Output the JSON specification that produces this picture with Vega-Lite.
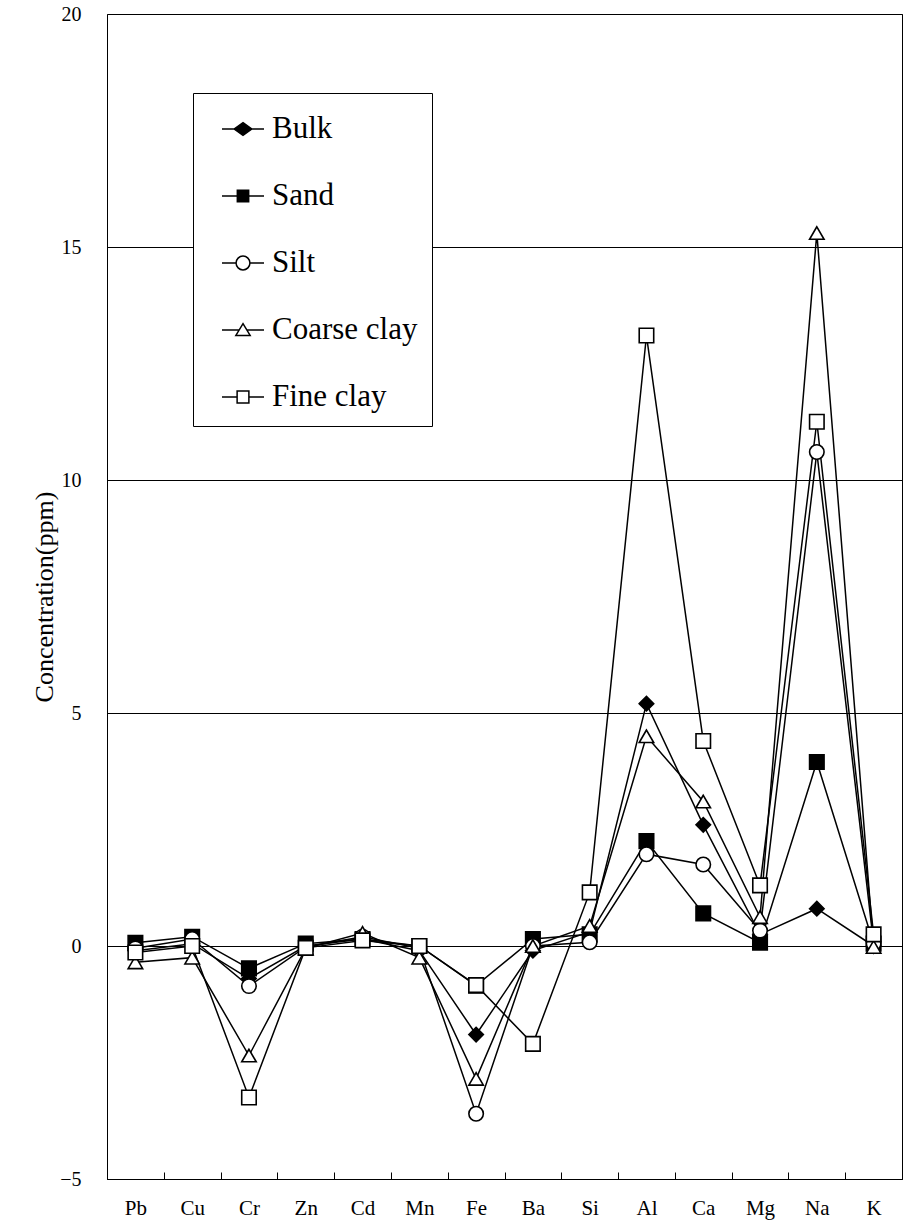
{
  "$schema": "https://vega.github.io/schema/vega-lite/v6.json",
  "autosize": {"type": "none"},
  "padding": {"left": 107, "top": 14, "right": 5, "bottom": 49},
  "width": 795,
  "height": 1165,
  "background": "white",
  "config": {
    "view": {"stroke": "black", "strokeWidth": 1},
    "font": "Liberation Serif",
    "legend": {
      "orient": "none",
      "legendX": 86,
      "legendY": 79,
      "fillColor": "white",
      "strokeColor": "black",
      "padding": 14,
      "symbolOffset": 14,
      "symbolSize": 1764,
      "symbolStrokeWidth": 1.5,
      "symbolStrokeColor": "black",
      "symbolOpacity": 1,
      "rowPadding": 30,
      "labelOffset": 7,
      "labelFont": "Liberation Serif",
      "labelFontSize": 31,
      "labelColor": "black",
      "labelLimit": 400
    }
  },
  "data": {
    "values": [
      {"element": "Pb", "series": "Bulk", "value": -0.1},
      {"element": "Cu", "series": "Bulk", "value": 0.05},
      {"element": "Cr", "series": "Bulk", "value": -0.7},
      {"element": "Zn", "series": "Bulk", "value": 0.0},
      {"element": "Cd", "series": "Bulk", "value": 0.15},
      {"element": "Mn", "series": "Bulk", "value": -0.1},
      {"element": "Fe", "series": "Bulk", "value": -1.9},
      {"element": "Ba", "series": "Bulk", "value": -0.1},
      {"element": "Si", "series": "Bulk", "value": 0.3},
      {"element": "Al", "series": "Bulk", "value": 5.2},
      {"element": "Ca", "series": "Bulk", "value": 2.6},
      {"element": "Mg", "series": "Bulk", "value": 0.25},
      {"element": "Na", "series": "Bulk", "value": 0.8},
      {"element": "K", "series": "Bulk", "value": 0.0},

      {"element": "Pb", "series": "Sand", "value": 0.07},
      {"element": "Cu", "series": "Sand", "value": 0.2},
      {"element": "Cr", "series": "Sand", "value": -0.48},
      {"element": "Zn", "series": "Sand", "value": 0.05},
      {"element": "Cd", "series": "Sand", "value": 0.15},
      {"element": "Mn", "series": "Sand", "value": 0.0},
      {"element": "Fe", "series": "Sand", "value": -0.85},
      {"element": "Ba", "series": "Sand", "value": 0.15},
      {"element": "Si", "series": "Sand", "value": 0.25},
      {"element": "Al", "series": "Sand", "value": 2.25},
      {"element": "Ca", "series": "Sand", "value": 0.7},
      {"element": "Mg", "series": "Sand", "value": 0.07},
      {"element": "Na", "series": "Sand", "value": 3.95},
      {"element": "K", "series": "Sand", "value": 0.05},

      {"element": "Pb", "series": "Silt", "value": -0.05},
      {"element": "Cu", "series": "Silt", "value": 0.15},
      {"element": "Cr", "series": "Silt", "value": -0.86},
      {"element": "Zn", "series": "Silt", "value": -0.02},
      {"element": "Cd", "series": "Silt", "value": 0.2},
      {"element": "Mn", "series": "Silt", "value": -0.05},
      {"element": "Fe", "series": "Silt", "value": -3.6},
      {"element": "Ba", "series": "Silt", "value": 0.0},
      {"element": "Si", "series": "Silt", "value": 0.08},
      {"element": "Al", "series": "Silt", "value": 1.97},
      {"element": "Ca", "series": "Silt", "value": 1.75},
      {"element": "Mg", "series": "Silt", "value": 0.33},
      {"element": "Na", "series": "Silt", "value": 10.6},
      {"element": "K", "series": "Silt", "value": 0.05},

      {"element": "Pb", "series": "Coarse clay", "value": -0.35},
      {"element": "Cu", "series": "Coarse clay", "value": -0.25},
      {"element": "Cr", "series": "Coarse clay", "value": -2.35},
      {"element": "Zn", "series": "Coarse clay", "value": -0.05},
      {"element": "Cd", "series": "Coarse clay", "value": 0.28},
      {"element": "Mn", "series": "Coarse clay", "value": -0.25},
      {"element": "Fe", "series": "Coarse clay", "value": -2.85},
      {"element": "Ba", "series": "Coarse clay", "value": 0.0},
      {"element": "Si", "series": "Coarse clay", "value": 0.43},
      {"element": "Al", "series": "Coarse clay", "value": 4.5},
      {"element": "Ca", "series": "Coarse clay", "value": 3.1},
      {"element": "Mg", "series": "Coarse clay", "value": 0.62},
      {"element": "Na", "series": "Coarse clay", "value": 15.3},
      {"element": "K", "series": "Coarse clay", "value": -0.02},

      {"element": "Pb", "series": "Fine clay", "value": -0.14},
      {"element": "Cu", "series": "Fine clay", "value": 0.0},
      {"element": "Cr", "series": "Fine clay", "value": -3.25},
      {"element": "Zn", "series": "Fine clay", "value": -0.04},
      {"element": "Cd", "series": "Fine clay", "value": 0.12},
      {"element": "Mn", "series": "Fine clay", "value": 0.0},
      {"element": "Fe", "series": "Fine clay", "value": -0.84},
      {"element": "Ba", "series": "Fine clay", "value": -2.1},
      {"element": "Si", "series": "Fine clay", "value": 1.15},
      {"element": "Al", "series": "Fine clay", "value": 13.1},
      {"element": "Ca", "series": "Fine clay", "value": 4.4},
      {"element": "Mg", "series": "Fine clay", "value": 1.3},
      {"element": "Na", "series": "Fine clay", "value": 11.25},
      {"element": "K", "series": "Fine clay", "value": 0.25}
    ]
  },
  "encoding": {
    "x": {
      "field": "element",
      "type": "nominal",
      "sort": ["Pb", "Cu", "Cr", "Zn", "Cd", "Mn", "Fe", "Ba", "Si", "Al", "Ca", "Mg", "Na", "K"],
      "scale": {"type": "band", "paddingInner": 0, "paddingOuter": 0},
      "axis": {
        "title": null,
        "labelAngle": 0,
        "labelFont": "Liberation Serif",
        "labelFontSize": 21,
        "labelColor": "black",
        "labelPadding": 25,
        "labelBaseline": "top",
        "tickBand": "extent",
        "tickSize": -7,
        "tickColor": "black",
        "tickWidth": 1,
        "domainColor": "black",
        "domainWidth": 1
      }
    },
    "y": {
      "field": "value",
      "type": "quantitative",
      "scale": {"domain": [-5, 20], "nice": false, "zero": false},
      "axis": {
        "title": "Concentration(ppm)",
        "titleFont": "Liberation Serif",
        "titleFontSize": 26,
        "titleFontWeight": "normal",
        "titleColor": "black",
        "titlePadding": 2,
        "values": [-5, 0, 5, 10, 15, 20],
        "labelFont": "Liberation Serif",
        "labelFontSize": 20,
        "labelColor": "black",
        "labelPadding": 26,
        "ticks": false,
        "domain": false,
        "grid": true,
        "gridColor": "black",
        "gridWidth": 1,
        "gridOpacity": 1
      }
    }
  },
  "layer": [
    {
      "mark": {"type": "line", "color": "black", "strokeWidth": 1.5},
      "encoding": {"detail": {"field": "series", "type": "nominal"}}
    },
    {
      "mark": {"type": "point", "filled": true, "stroke": "black", "strokeWidth": 1.6, "opacity": 1, "size": 210},
      "encoding": {
        "fill": {
          "condition": {"test": "datum.series === 'Bulk' || datum.series === 'Sand'", "value": "black"},
          "value": "white"
        },
        "shape": {
          "field": "series",
          "type": "nominal",
          "scale": {
            "domain": ["Bulk", "Sand", "Silt", "Coarse clay", "Fine clay"],
            "range": ["diamond", "square", "circle", "triangle-up", "square"]
          },
          "legend": null
        }
      }
    },
    {
      "description": "Key entries: line-through-marker glyphs, the marks themselves stay hidden",
      "mark": {"type": "point", "filled": false, "strokeWidth": 1.5, "opacity": 0},
      "encoding": {
        "shape": {
          "field": "series",
          "type": "nominal",
          "scale": {
            "domain": ["Bulk", "Sand", "Silt", "Coarse clay", "Fine clay"],
            "range": [
              "M-1,0H1M0,-0.3L0.42,0L0,0.3L-0.42,0Z",
              "M-1,0H1M-0.27,-0.27H0.27V0.27H-0.27Z",
              "M-1,0H-0.33M0.33,0H1M0.33,0A0.33,0.33,0,1,1,-0.33,0A0.33,0.33,0,1,1,0.33,0Z",
              "M-1,0H-0.18M0.18,0H1M0,-0.3L0.34,0.26L-0.34,0.26Z",
              "M-1,0H-0.28M0.28,0H1M-0.28,-0.28H0.28V0.28H-0.28Z"
            ]
          },
          "legend": {"title": null}
        },
        "fill": {
          "field": "series",
          "type": "nominal",
          "scale": {
            "domain": ["Bulk", "Sand", "Silt", "Coarse clay", "Fine clay"],
            "range": ["black", "black", "white", "white", "white"]
          },
          "legend": {"title": null}
        },
        "stroke": {
          "field": "series",
          "type": "nominal",
          "scale": {
            "domain": ["Bulk", "Sand", "Silt", "Coarse clay", "Fine clay"],
            "range": ["black", "black", "black", "black", "black"]
          },
          "legend": {"title": null}
        }
      }
    }
  ],
  "resolve": {
    "scale": {"shape": "independent", "fill": "independent", "stroke": "independent"},
    "legend": {"shape": "independent", "fill": "independent", "stroke": "independent"}
  }
}
